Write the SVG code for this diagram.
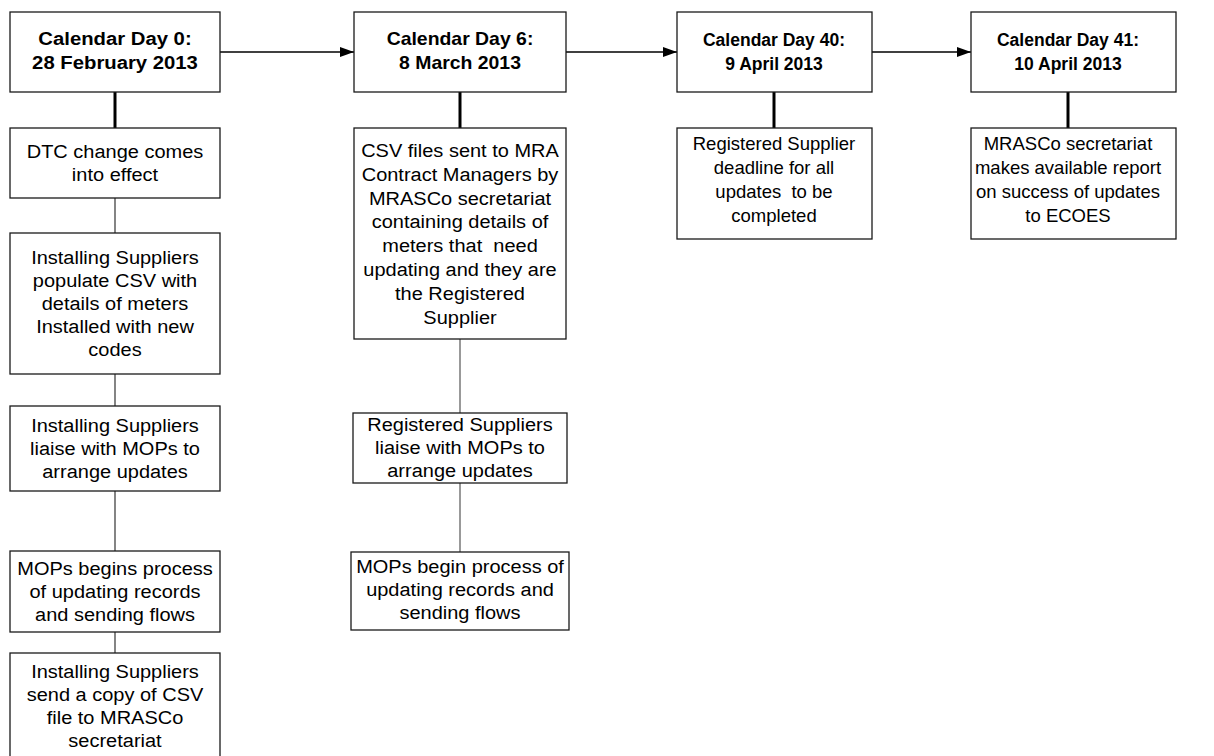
<svg xmlns="http://www.w3.org/2000/svg" width="1214" height="756" viewBox="0 0 1214 756">
<style>
.box{fill:#fff;stroke:#1a1a1a;stroke-width:1.3}
.h{font-family:"Liberation Sans",Arial,sans-serif;font-size:17.5px;font-weight:bold;fill:#000;text-anchor:middle}
.t{font-family:"Liberation Sans",Arial,sans-serif;font-size:18.6px;fill:#000;text-anchor:middle}
.ts{font-size:18.5px}
.thick{stroke:#000;stroke-width:3;fill:none}
.thin1{stroke:#333;stroke-width:1.2;fill:none}
.thin2{stroke:#777;stroke-width:1.5;fill:none}
.arr{stroke:#000;stroke-width:1.3;fill:none;marker-end:url(#ah)}
</style>
<defs>
<marker id="ah" viewBox="0 0 14 10" refX="14" refY="5" markerWidth="14" markerHeight="11" markerUnits="userSpaceOnUse" orient="auto">
<path d="M0,0 L14,5 L0,10 Z" fill="#000"/>
</marker>
</defs>
<rect width="1214" height="756" fill="#fff"/>
<g id="connectors">
<line class="arr" x1="220" y1="52" x2="354" y2="52"/>
<line class="arr" x1="566" y1="52" x2="677" y2="52"/>
<line class="arr" x1="872" y1="52" x2="971" y2="52"/>
<line class="thick" x1="115" y1="92" x2="115" y2="128"/>
<line class="thick" x1="460" y1="92" x2="460" y2="128"/>
<line class="thick" x1="774" y1="92" x2="774" y2="128"/>
<line class="thick" x1="1068" y1="92" x2="1068" y2="128"/>
<line class="thin1" x1="115" y1="198" x2="115" y2="233"/>
<line class="thin1" x1="115" y1="374" x2="115" y2="406"/>
<line class="thin1" x1="115" y1="491" x2="115" y2="551"/>
<line class="thin1" x1="115" y1="632" x2="115" y2="653"/>
<line class="thin2" x1="460" y1="339" x2="460" y2="413"/>
<line class="thin2" x1="460" y1="483" x2="460" y2="552"/>
</g>
<g id="day0">
<rect class="box" x="10" y="12" width="210" height="80"/>
<g transform="translate(115 0) scale(1.16 1)">
<text class="h" x="0" y="45.5">Calendar Day 0:</text>
<text class="h" x="0" y="69.5">28 February 2013</text>
</g>
</g>
<g id="day6">
<rect class="box" x="354" y="12" width="212" height="80"/>
<g transform="translate(460 0) scale(1.11 1)">
<text class="h" x="0" y="45.5">Calendar Day 6:</text>
<text class="h" x="0" y="69.5">8 March 2013</text>
</g>
</g>
<g id="day40">
<rect class="box" x="677" y="12" width="195" height="80"/>
<text class="h" x="774" y="45.5">Calendar Day 40:</text>
<text class="h" x="774" y="69.5">9 April 2013</text>
</g>
<g id="day41">
<rect class="box" x="971" y="12" width="205" height="80"/>
<text class="h" x="1068" y="45.5">Calendar Day 41:</text>
<text class="h" x="1068" y="69.5">10 April 2013</text>
</g>
<g id="dtc">
<rect class="box" x="10" y="128" width="210" height="70"/>
<g transform="translate(115 0) scale(1.075 1)">
<text class="t" x="0" y="158.5">DTC change comes</text>
<text class="t" x="0" y="181.5">into effect</text>
</g>
</g>
<g id="populate">
<rect class="box" x="10" y="233" width="210" height="141"/>
<g transform="translate(115 0) scale(1.075 1)">
<text class="t" x="0" y="264.5">Installing Suppliers</text>
<text class="t" x="0" y="287.5">populate CSV with</text>
<text class="t" x="0" y="310.5">details of meters</text>
<text class="t" x="0" y="333.5">Installed with new</text>
<text class="t" x="0" y="356.5">codes</text>
</g>
</g>
<g id="liaise1">
<rect class="box" x="10" y="406" width="210" height="85"/>
<g transform="translate(115 0) scale(1.075 1)">
<text class="t" x="0" y="432.5">Installing Suppliers</text>
<text class="t" x="0" y="455.5">liaise with MOPs to</text>
<text class="t" x="0" y="478.5">arrange updates</text>
</g>
</g>
<g id="mops1">
<rect class="box" x="10" y="551" width="210" height="81"/>
<g transform="translate(115 0) scale(1.075 1)">
<text class="t" x="0" y="575.5">MOPs begins process</text>
<text class="t" x="0" y="598.5">of updating records</text>
<text class="t" x="0" y="621.5">and sending flows</text>
</g>
</g>
<g id="copy">
<rect class="box" x="10" y="653" width="210" height="106"/>
<g transform="translate(115 0) scale(1.075 1)">
<text class="t" x="0" y="678">Installing Suppliers</text>
<text class="t" x="0" y="701">send a copy of CSV</text>
<text class="t" x="0" y="724">file to MRASCo</text>
<text class="t" x="0" y="747">secretariat</text>
</g>
</g>
<g id="csv">
<rect class="box" x="354" y="128" width="212" height="211"/>
<g transform="translate(460 0) scale(1.075 1)">
<text class="t" x="0" y="157">CSV files sent to MRA</text>
<text class="t" x="0" y="180.8">Contract Managers by</text>
<text class="t" x="0" y="204.6">MRASCo secretariat</text>
<text class="t" x="0" y="228.4">containing details of</text>
<text class="t" x="0" y="252.2" xml:space="preserve">meters that  need</text>
<text class="t" x="0" y="276">updating and they are</text>
<text class="t" x="0" y="299.8">the Registered</text>
<text class="t" x="0" y="323.6">Supplier</text>
</g>
</g>
<g id="liaise2">
<rect class="box" x="353" y="413" width="214" height="70"/>
<g transform="translate(460 0) scale(1.075 1)">
<text class="t" x="0" y="431">Registered Suppliers</text>
<text class="t" x="0" y="454">liaise with MOPs to</text>
<text class="t" x="0" y="477">arrange updates</text>
</g>
</g>
<g id="mops2">
<rect class="box" x="351" y="552" width="218" height="78"/>
<g transform="translate(460 0) scale(1.075 1)">
<text class="t" x="0" y="573">MOPs begin process of</text>
<text class="t" x="0" y="596">updating records and</text>
<text class="t" x="0" y="619">sending flows</text>
</g>
</g>
<g id="deadline">
<rect class="box" x="677" y="128" width="195" height="111"/>
<text class="t ts" x="774" y="150">Registered Supplier</text>
<text class="t ts" x="774" y="174">deadline for all</text>
<text class="t ts" x="774" y="198" xml:space="preserve">updates  to be</text>
<text class="t ts" x="774" y="222">completed</text>
</g>
<g id="report">
<rect class="box" x="971" y="128" width="205" height="111"/>
<text class="t ts" x="1068" y="150">MRASCo secretariat</text>
<text class="t ts" x="1068" y="174">makes available report</text>
<text class="t ts" x="1068" y="198">on success of updates</text>
<text class="t ts" x="1068" y="222">to ECOES</text>
</g>
</svg>
